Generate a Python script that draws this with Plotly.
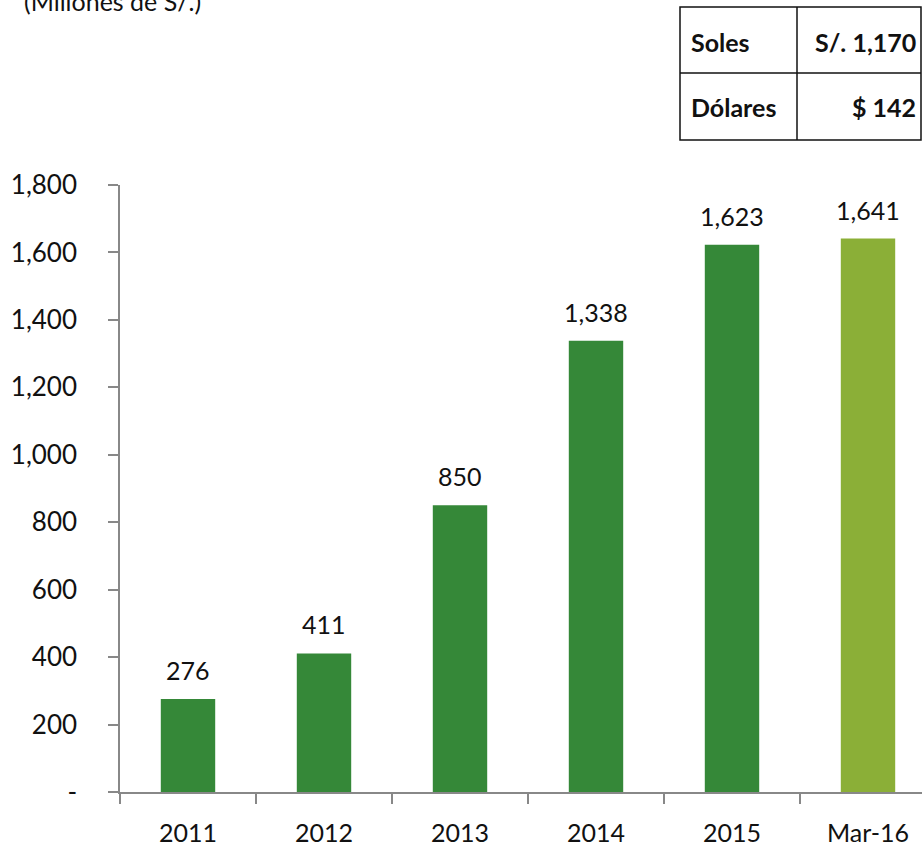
import plotly.graph_objects as go

categories = ["2011", "2012", "2013", "2014", "2015", "Mar-16"]
values = [276, 411, 850, 1338, 1623, 1641]
bar_colors = ["#358838", "#358838", "#358838", "#358838", "#358838", "#8BAF37"]
value_labels = ["276", "411", "850", "1,338", "1,623", "1,641"]
y_tickvals = [0, 200, 400, 600, 800, 1000, 1200, 1400, 1600, 1800]
y_ticktext = ["-", "200", "400", "600", "800", "1,000", "1,200", "1,400", "1,600", "1,800"]
table_rows = [("Soles", "S/. 1,170"), ("Dólares", "$ 142")]
title_text = "(Millones de S/.)"

W, H = 922, 847
L, R, T, B = 120, 0, 185, 55
PW, PH = W - L - R, H - T - B


def px(x):
    return (x - L) / PW


def py(y):
    return (H - B - y) / PH


FONT = "Lato"

fig = go.Figure()
fig.add_trace(go.Bar(
    x=categories, y=values, marker_color=bar_colors, marker_line_width=0,
    width=0.4, hoverinfo="skip",
))

annotations = []
for i, (v, t) in enumerate(zip(values, value_labels)):
    annotations.append(dict(x=i, y=v, xref="x", yref="y", text=t, showarrow=False,
                            yanchor="bottom", yshift=12,
                            font=dict(family=FONT, size=25, color="#111")))

annotations.append(dict(x=px(22), y=py(1), xref="paper", yref="paper", text=title_text,
                        showarrow=False, xanchor="left", yanchor="middle",
                        font=dict(family=FONT, size=25, color="#111")))

shapes = []
tx0, tx1, txm = px(680), px(921), px(797)
ty0, ty1, tym = py(7), py(140), py(73)
line = dict(color="#111", width=1.5)
shapes.append(dict(type="rect", xref="paper", yref="paper", x0=tx0, x1=tx1, y0=ty1, y1=ty0, line=line))
shapes.append(dict(type="line", xref="paper", yref="paper", x0=tx0, x1=tx1, y0=tym, y1=tym, line=line))
shapes.append(dict(type="line", xref="paper", yref="paper", x0=txm, x1=txm, y0=ty1, y1=ty0, line=line))

row_centers = [py(42), py(107)]
for (lab, val), yc in zip(table_rows, row_centers):
    annotations.append(dict(x=px(689), y=yc, xref="paper", yref="paper", text="<b>%s</b>" % lab,
                            showarrow=False, xanchor="left", yanchor="middle",
                            font=dict(family=FONT, size=25, color="#111")))
    annotations.append(dict(x=px(918), y=yc, xref="paper", yref="paper", text="<b>%s</b>" % val,
                            showarrow=False, xanchor="right", yanchor="middle",
                            font=dict(family=FONT, size=25, color="#111")))

fig.update_layout(
    width=W, height=H,
    margin=dict(l=L, r=R, t=T, b=B, autoexpand=False),
    paper_bgcolor="white", plot_bgcolor="white",
    showlegend=False,
    annotations=annotations, shapes=shapes,
    bargap=0.6,
)
fig.update_xaxes(
    type="category", range=[-0.5, -0.5 + PW / 136.0],
    showline=True, linecolor="#888", linewidth=1.5,
    ticks="outside", ticklen=10, tickcolor="#888", tickwidth=1.5,
    tickson="boundaries", showgrid=False, zeroline=False,
    tickfont=dict(family=FONT, size=25, color="#111"),
    ticklabelstandoff=18,
)
fig.update_yaxes(
    range=[0, 1800], tickvals=y_tickvals, ticktext=y_ticktext,
    showline=True, linecolor="#888", linewidth=1.5,
    ticks="outside", ticklen=10, tickcolor="#888", tickwidth=1.5,
    showgrid=False, zeroline=False,
    tickfont=dict(family=FONT, size=26, color="#111"),
    ticklabelstandoff=26,
)

fig.write_html("out.html", config={"displayModeBar": False},
               post_script="document.body.style.margin='0';")
